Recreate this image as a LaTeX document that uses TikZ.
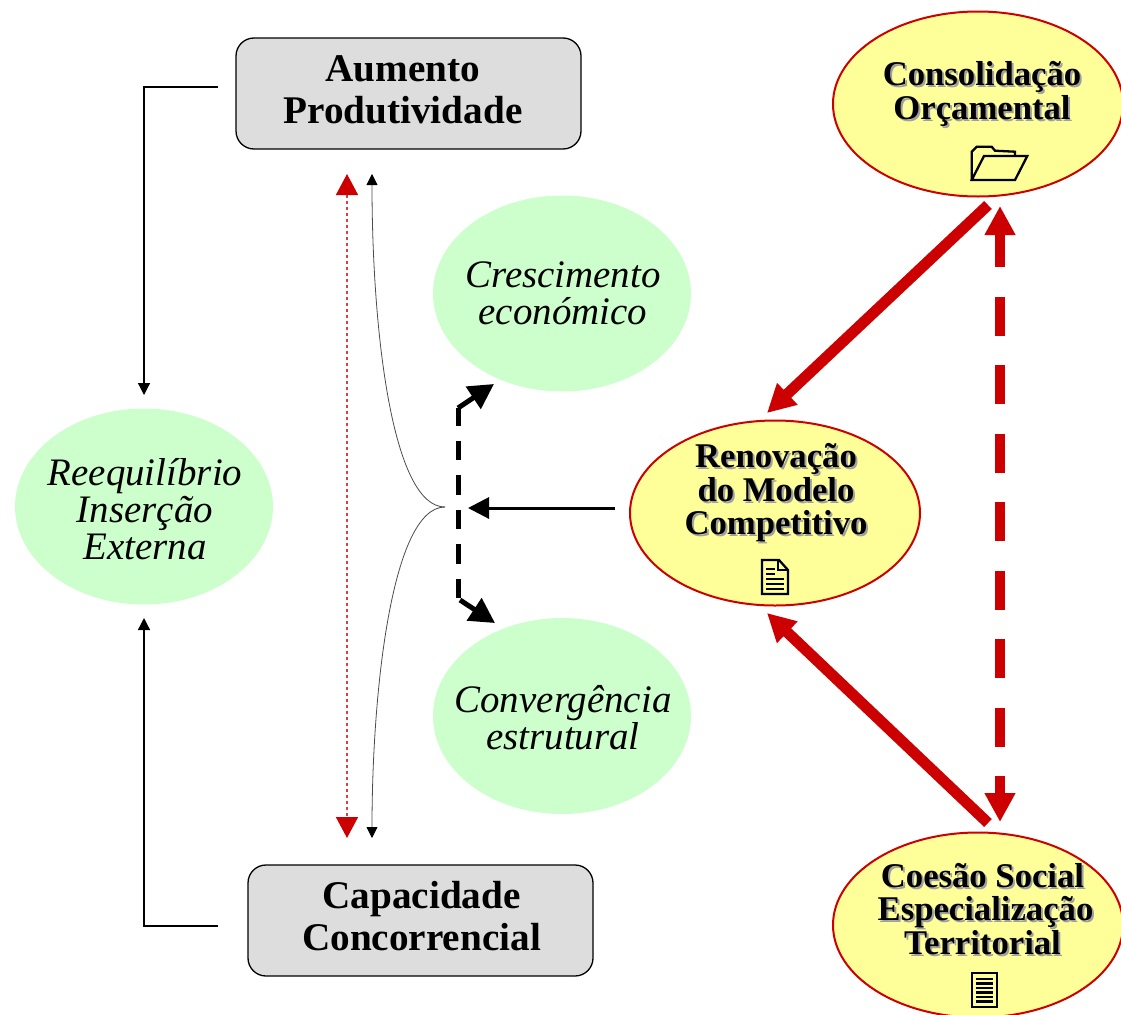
\documentclass[tikz,border=0pt]{standalone}
\usepackage{fontspec}
\setmainfont{Liberation Serif}
\usetikzlibrary{arrows.meta,shapes.geometric}
\definecolor{myred}{HTML}{CC0000}
\definecolor{myyellow}{HTML}{FFFF99}
\definecolor{mygreen}{HTML}{CCFFCC}
\definecolor{mygray}{HTML}{DDDDDD}
\definecolor{shadowgray}{HTML}{A0A0A0}
\newcommand\shtxt[1]{\leavevmode\rlap{\kern 1.5pt\raisebox{-1.5pt}{\textcolor{shadowgray}{#1}}}#1}
\def\u{0.75pt}
\tikzset{
  greenell/.style={ellipse,fill=mygreen,minimum width=258*\u,minimum height=196*\u,inner sep=0pt},
  yellowell/.style={ellipse,draw=myred,line width=2*\u,fill=myyellow,minimum width=290*\u,minimum height=185*\u,inner sep=0pt},
  graybox/.style={rectangle,rounded corners=18*\u,draw=black,line width=1.3*\u,fill=mygray,minimum width=345*\u,minimum height=111*\u,inner sep=0pt},
  boldtxt/.style={font=\fontsize{29.4pt}{31.5pt}\selectfont\bfseries,align=center,inner sep=0pt},
  italtxt/.style={font=\fontsize{29.2pt}{27.8pt}\selectfont\itshape,align=center,inner sep=0pt},
  shadtxt/.style={font=\fontsize{26pt}{25.2pt}\selectfont\bfseries,align=center,inner sep=0pt},
  thinarrow/.style={line width=1.3*\u,-{Triangle[length=12*\u,width=12*\u]}},
  hairarrow/.style={line width=0.8*\u,draw=black!70,-{Triangle[length=11*\u,width=11*\u,color=black]}},
  dotarrow/.style={line width=1.5*\u,draw=myred!75,dash pattern=on 3*\u off 3*\u,{Triangle[length=21*\u,width=22*\u,fill=myred,color=myred]}-{Triangle[length=21*\u,width=22*\u,fill=myred,color=myred]}},
  redarrow/.style={line width=11*\u,draw=myred,-{Triangle[length=28*\u,width=28*\u,color=myred]}},
  reddash/.style={line width=9.7*\u,draw=myred,dash pattern=on 39*\u off 29.5*\u,dash phase=5*\u,{Triangle[length=29*\u,width=29*\u,color=myred]}-{Triangle[length=29*\u,width=29*\u,color=myred]}},
  blackdash/.style={line width=5*\u,draw=black,dash pattern=on 19.5*\u off 15*\u},
  blacktip/.style={line width=5*\u,draw=black,-{Triangle[length=25*\u,width=26*\u]}},
  midarrow/.style={line width=3*\u,-{Triangle[length=21*\u,width=21*\u]}},
  icon/.style={line width=2.3*\u,draw=black,line join=miter},
}
\begin{document}
\begin{tikzpicture}[x=0.75pt,y=-0.75pt]
\clip (0,0) rectangle (1121,1014);
% boxes
\node[graybox] (aum) at (408.5,93.5) {};
\node[graybox] (cap) at (420.5,920.5) {};
\node[boldtxt] (aumt) at (403,90) {Aumento\\Produtividade};
\node[boldtxt] (capt) at (421.5,916) {Capacidade\\Concorrencial};
% green ellipses
\node[greenell] (cre) at (562,293.5) {};
\node[greenell] (con) at (562,716) {};
\node[greenell] (ree) at (144,506.5) {};
\node[italtxt] (cret) at (563,293.5) {Crescimento\\económico};
\node[italtxt] (cont) at (563,718) {Convergência\\estrutural};
\node[italtxt] (reet) at (145,509) {Reequilíbrio\\Inserção\\Externa};
% yellow ellipses
\node[yellowell] (orc) at (978,104) {};
\node[yellowell] (ren) at (775,513) {};
\node[yellowell] (coe) at (978,925) {};
\node[shadtxt] (orct) at (982,95) {\shtxt{Consolidação}\\\shtxt{Orçamental}};
\node[shadtxt] (rent) at (776,494) {\shtxt{Renovação}\\\shtxt{do Modelo}\\\shtxt{Competitivo}};
\node[shadtxt] (coet) at (985.5,910) {\shtxt{Coesão Social}\kern 4.5pt\\\shtxt{Especialização}\\\shtxt{Territorial}\kern 4.5pt};
% icons
\draw[icon] (971.7,180) -- (971.7,151.7) -- (976.7,146.7) -- (991.7,146.7) -- (995,150.7) -- (1015,151.7) -- (1015,156);
\draw[icon] (971.7,180) -- (1015,180) -- (1027.3,156) -- (984,156) -- cycle;
\draw[icon] (762,560) -- (779,560) -- (788,570) -- (788,594) -- (762,594) -- cycle;
\draw[icon] (778,560) -- (778,570) -- (788,570);
\foreach \yy in {569,574} \draw[icon] (766,\yy) -- (775,\yy);
\foreach \yy in {579,584,589} \draw[icon] (766,\yy) -- (784,\yy);
\draw[icon] (972,973) rectangle (997,1007);
\foreach \yy in {979,983.5,988,992.5,997,1001.5} \draw[icon] (976,\yy) -- (993,\yy);
% coordinates
\coordinate (a1) at (218,87);
\coordinate (a2) at (144,87);
\coordinate (a3) at (144,395);
\coordinate (c1) at (218,926);
\coordinate (c2) at (144,926);
\coordinate (c3) at (144,618);
\coordinate (r1) at (347,174);
\coordinate (r2) at (347,838);
\coordinate (h0) at (445,507);
\coordinate (h1) at (372,174);
\coordinate (h2) at (372,838);
\coordinate (d0) at (458,598);
\coordinate (d1) at (458,408);
\coordinate (d2) at (494,384);
\coordinate (d3) at (460,600);
\coordinate (d4) at (495,623);
\coordinate (m0) at (615,508);
\coordinate (m1) at (468,508);
\coordinate (o0) at (988,205);
\coordinate (rt) at (767,413);
\coordinate (e0) at (988,823);
\coordinate (rb) at (767,613);
\coordinate (v0) at (1000,206);
\coordinate (v1) at (1000,822);
% connectors
\draw[thinarrow] (a1) -- (a2) -- (a3);
\draw[thinarrow] (c1) -- (c2) -- (c3);
\draw[dotarrow] (r1) -- (r2);
\draw[hairarrow] (h0) .. controls (392,507) and (372,330) .. (h1);
\draw[hairarrow] (h0) .. controls (392,507) and (372,690) .. (h2);
\draw[blackdash] (d0) -- (d1);
\draw[blacktip] (d1) -- (d2);
\draw[blacktip] (d3) -- (d4);
\draw[midarrow] (m0) -- (m1);
\draw[redarrow] (o0) -- (rt);
\draw[redarrow] (e0) -- (rb);
\draw[reddash] (v0) -- (v1);
\end{tikzpicture}
\end{document}
